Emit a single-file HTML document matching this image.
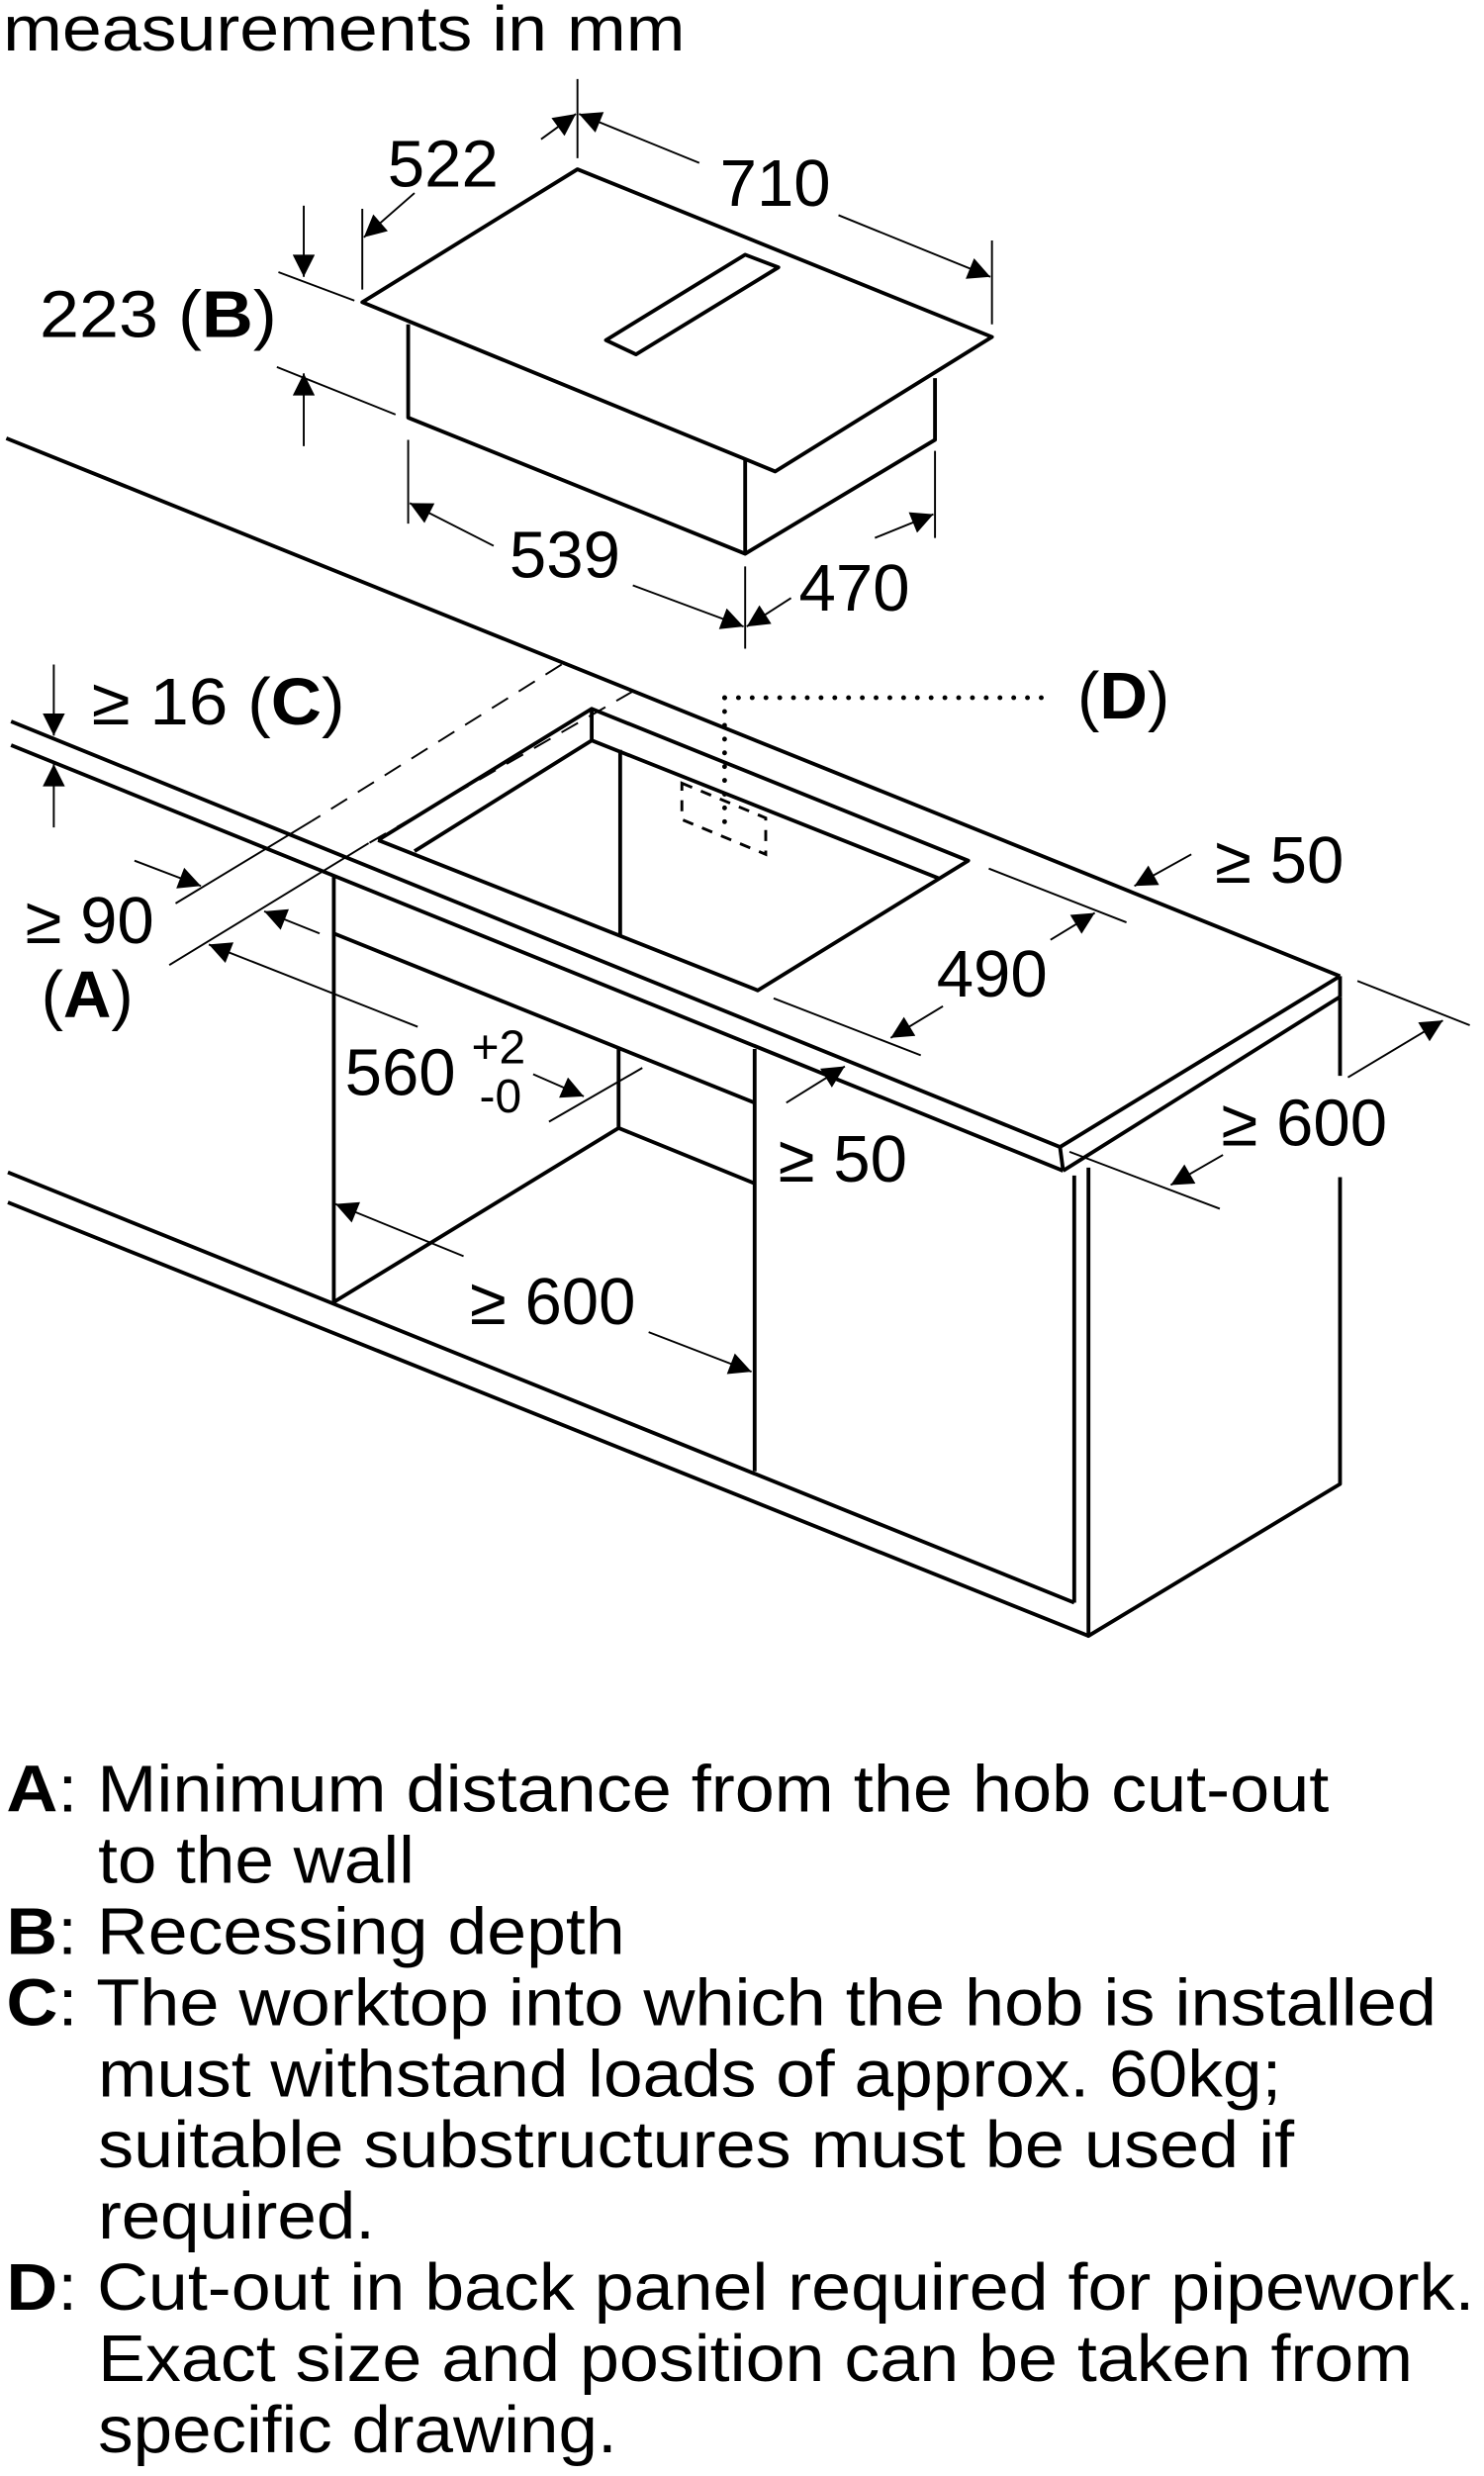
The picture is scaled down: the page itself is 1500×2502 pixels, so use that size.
<!DOCTYPE html>
<html><head><meta charset="utf-8"><style>
html,body{margin:0;padding:0;background:#fff;}
svg{display:block;}
text{font-family:"Liberation Sans",Arial,sans-serif;fill:#000;}
</style></head><body>
<svg width="1500" height="2502" viewBox="0 0 938 1565" preserveAspectRatio="none" xmlns="http://www.w3.org/2000/svg">
<defs>
<marker id="a" viewBox="0 0 10 10" refX="10" refY="5" markerWidth="22" markerHeight="14" markerUnits="userSpaceOnUse" orient="auto">
<path d="M0,0 L10,5 L0,10 z" fill="#000"/></marker>
</defs>
<text x="2" y="32" font-size="40" textLength="431" lengthAdjust="spacingAndGlyphs">measurements in mm</text>

<!-- hob -->
<g stroke="#000" stroke-width="2.4" fill="none" stroke-linejoin="round">
<polygon points="229,191 365,107 627,213 490,298" fill="#fff"/>
<polygon points="383,215 471,161 492,169 402,224"/>
<polyline points="258,205 258,264 471,350 591,278 591,239"/>
<line x1="471" y1="290" x2="471" y2="350"/>
</g>
<!-- hob dims -->
<g stroke="#000" stroke-width="1.2" fill="none">
<line x1="365" y1="50" x2="365" y2="100"/>
<line x1="229" y1="132" x2="229" y2="183"/>
<line x1="627" y1="152" x2="627" y2="205"/>
<line x1="176" y1="172" x2="224" y2="190"/>
<line x1="175" y1="232" x2="250" y2="262"/>
<line x1="258" y1="278" x2="258" y2="331"/>
<line x1="471" y1="358" x2="471" y2="410"/>
<line x1="591" y1="285" x2="591" y2="340"/>
<line x1="262" y1="122" x2="230" y2="150" marker-end="url(#a)"/>
<line x1="342" y1="88" x2="364" y2="72" marker-end="url(#a)"/>
<line x1="442" y1="103" x2="366" y2="72" marker-end="url(#a)"/>
<line x1="530" y1="136" x2="626" y2="175" marker-end="url(#a)"/>
<line x1="192" y1="130" x2="192" y2="175" marker-end="url(#a)"/>
<line x1="192" y1="282" x2="192" y2="236" marker-end="url(#a)"/>
<line x1="312" y1="345" x2="259" y2="318" marker-end="url(#a)"/>
<line x1="400" y1="370" x2="470" y2="396" marker-end="url(#a)"/>
<line x1="500" y1="378" x2="472" y2="396" marker-end="url(#a)"/>
<line x1="553" y1="340" x2="590" y2="325" marker-end="url(#a)"/>
</g>
<g font-size="42">
<text x="245" y="118">522</text>
<text x="455" y="130">710</text>
<text x="25" y="213" textLength="150" lengthAdjust="spacingAndGlyphs">223 (<tspan font-weight="bold">B</tspan>)</text>
<text x="322" y="365">539</text>
<text x="505" y="386">470</text>
</g>

<!-- worktop & cabinet -->
<g stroke="#000" stroke-width="2.4" fill="none" stroke-linejoin="round">
<line x1="4" y1="277" x2="847" y2="617"/>
<line x1="7" y1="456" x2="670" y2="725"/>
<line x1="7" y1="471" x2="672" y2="740"/>
<line x1="670" y1="725" x2="847" y2="617"/>
<line x1="672" y1="740" x2="847" y2="630"/>
<line x1="847" y1="617" x2="847" y2="630"/>
<line x1="670" y1="725" x2="672" y2="740"/>
<polyline points="847,630 847,680"/>
<polyline points="847,744 847,938 688,1034 688,738"/>
<line x1="679" y1="743" x2="679" y2="1013"/>
<line x1="5" y1="741" x2="679" y2="1013"/>
<line x1="5" y1="760" x2="688" y2="1034"/>
<line x1="211" y1="554" x2="211" y2="823"/>
<line x1="477" y1="663" x2="477" y2="930"/>
<line x1="211" y1="590" x2="477" y2="697"/>
<polyline points="211,823 391,713 477,748"/>
<line x1="391" y1="662" x2="391" y2="713"/>
<!-- cutout -->
<polyline points="239,531 374,448 612,544 479,626 239,531"/>
<polyline points="262,538 374,468 593,555"/>
<line x1="374" y1="448" x2="374" y2="468"/>
<line x1="392" y1="474" x2="392" y2="591"/>
</g>
<g stroke="#000" stroke-width="1.8" fill="none" stroke-dasharray="7,6">
<polygon points="431,495 484,517 484,540 431,518"/>
</g>
<g stroke="#000" stroke-width="3" fill="none" stroke-dasharray="0.1,8.6" stroke-linecap="round">
<line x1="458" y1="441" x2="663" y2="441"/>
<line x1="458" y1="441" x2="458" y2="521"/>
</g>
<!-- lower dims -->
<g stroke="#000" stroke-width="1.2" fill="none">
<line x1="355" y1="420" x2="197" y2="519" stroke-dasharray="12,8"/>
<line x1="197" y1="519" x2="111" y2="571"/>
<line x1="400" y1="437" x2="233" y2="533" stroke-dasharray="12,8"/>
<line x1="233" y1="533" x2="107" y2="610"/>
<line x1="347" y1="709" x2="406" y2="675"/>
<line x1="489" y1="631" x2="582" y2="667"/>
<line x1="625" y1="549" x2="712" y2="583"/>
<line x1="858" y1="620" x2="929" y2="648"/>
<line x1="676" y1="728" x2="771" y2="764"/>
<line x1="34" y1="420" x2="34" y2="465" marker-end="url(#a)"/>
<line x1="34" y1="523" x2="34" y2="483" marker-end="url(#a)"/>
<line x1="85" y1="544" x2="127" y2="560" marker-end="url(#a)"/>
<line x1="202" y1="590" x2="167" y2="576" marker-end="url(#a)"/>
<line x1="264" y1="649" x2="132" y2="597" marker-end="url(#a)"/>
<line x1="337" y1="679" x2="369" y2="693" marker-end="url(#a)"/>
<line x1="293" y1="794" x2="212" y2="761" marker-end="url(#a)"/>
<line x1="410" y1="842" x2="475" y2="867" marker-end="url(#a)"/>
<line x1="497" y1="697" x2="534" y2="674" marker-end="url(#a)"/>
<line x1="596" y1="636" x2="563" y2="656" marker-end="url(#a)"/>
<line x1="664" y1="594" x2="692" y2="577" marker-end="url(#a)"/>
<line x1="753" y1="540" x2="717" y2="560" marker-end="url(#a)"/>
<line x1="852" y1="681" x2="912" y2="645" marker-end="url(#a)"/>
<line x1="773" y1="730" x2="740" y2="749" marker-end="url(#a)"/>
</g>
<g font-size="42">
<text x="58" y="458" textLength="160" lengthAdjust="spacingAndGlyphs">≥ 16 (<tspan font-weight="bold">C</tspan>)</text>
<text x="681" y="454">(<tspan font-weight="bold">D</tspan>)</text>
<text x="768" y="558">≥ 50</text>
<text x="16" y="596">≥ 90</text>
<text x="26" y="643">(<tspan font-weight="bold">A</tspan>)</text>
<text x="592" y="630">490</text>
<text x="218" y="692">560</text>
<text x="298" y="672" font-size="30">+2</text>
<text x="303" y="703" font-size="30">-0</text>
<text x="772" y="724">≥ 600</text>
<text x="492" y="747">≥ 50</text>
<text x="297" y="837">≥ 600</text>
</g>

<!-- notes -->
<g font-size="42">
<text x="4" y="1145" textLength="836" lengthAdjust="spacingAndGlyphs"><tspan font-weight="bold">A</tspan>: Minimum distance from the hob cut-out</text>
<text x="62" y="1190" textLength="200" lengthAdjust="spacingAndGlyphs">to the wall</text>
<text x="4" y="1235" textLength="391" lengthAdjust="spacingAndGlyphs"><tspan font-weight="bold">B</tspan>: Recessing depth</text>
<text x="4" y="1280" textLength="904" lengthAdjust="spacingAndGlyphs"><tspan font-weight="bold">C</tspan>: The worktop into which the hob is installed</text>
<text x="62" y="1325" textLength="748" lengthAdjust="spacingAndGlyphs">must withstand loads of approx. 60kg;</text>
<text x="62" y="1370" textLength="756" lengthAdjust="spacingAndGlyphs">suitable substructures must be used if</text>
<text x="62" y="1415" textLength="175" lengthAdjust="spacingAndGlyphs">required.</text>
<text x="4" y="1460" textLength="928" lengthAdjust="spacingAndGlyphs"><tspan font-weight="bold">D</tspan>: Cut-out in back panel required for pipework.</text>
<text x="62" y="1505" textLength="831" lengthAdjust="spacingAndGlyphs">Exact size and position can be taken from</text>
<text x="62" y="1550" textLength="328" lengthAdjust="spacingAndGlyphs">specific drawing.</text>
</g>
</svg>
</body></html>
